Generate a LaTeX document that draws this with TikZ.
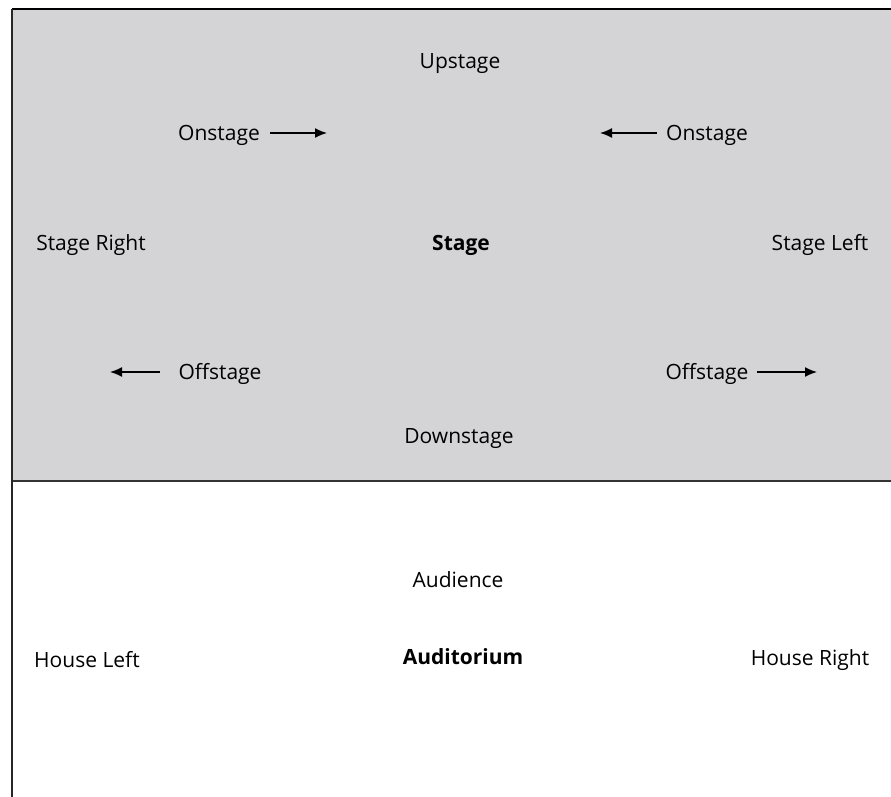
\documentclass[tikz,border=0pt]{standalone}
\usepackage{fontspec}
\setmainfont{Open Sans}
\usetikzlibrary{arrows.meta}
\definecolor{stagegray}{HTML}{D4D4D6}
\tikzset{
  lbl/.style={font=\fontsize{21}{24}\selectfont, inner sep=0pt, yshift=-2pt},
  bold lbl/.style={lbl, font=\fontsize{21}{24}\selectfont\bfseries},
  dirarrow/.style={line width=1.5pt, -{Latex[length=12pt,width=10pt]}},
}
\begin{document}
\begin{tikzpicture}[x=1pt,y=-1pt]
  \useasboundingbox (0,0) rectangle (891,797);
  \fill[white] (0,0) rectangle (891,797);
  % stage area
  \fill[stagegray] (12,9) rectangle (891,481);
  \draw[line width=2pt] (12,9) -- (891,9);
  \draw[line width=1.6pt, black!80] (12,481) -- (891,481);
  % house wall
  \draw[line width=2pt, black!85] (12,9) -- (12,797);

  % stage labels
  \node[lbl] (up) at (460,62) {Upstage};
  \node[lbl] (onl) at (219,133) {Onstage};
  \node[lbl] (onr) at (707,133) {Onstage};
  \node[lbl] (sr) at (91,243) {Stage Right};
  \node[bold lbl] (stage) at (461,243) {Stage};
  \node[lbl] (sl) at (820,243) {Stage Left};
  \node[lbl] (offl) at (220,372) {Offstage};
  \node[lbl] (offr) at (707,372) {Offstage};
  \node[lbl] (down) at (459,437) {Downstage};

  % arrow ends
  \coordinate (onlT) at (270,133);  \coordinate (onlA) at (327,133);
  \coordinate (onrT) at (657,133);  \coordinate (onrA) at (600,133);
  \coordinate (offlT) at (160,372); \coordinate (offlA) at (110,372);
  \coordinate (offrT) at (757,372); \coordinate (offrA) at (817,372);
  \draw[dirarrow] (onlT) -- (onlA);
  \draw[dirarrow] (onrT) -- (onrA);
  \draw[dirarrow] (offlT) -- (offlA);
  \draw[dirarrow] (offrT) -- (offrA);

  % auditorium labels
  \node[lbl] (aud) at (458,578) {Audience};
  \node[lbl] (hl) at (87,658) {House Left};
  \node[bold lbl] (audit) at (463,655) {Auditorium};
  \node[lbl] (hr) at (810,658) {House Right};
\end{tikzpicture}
\end{document}
